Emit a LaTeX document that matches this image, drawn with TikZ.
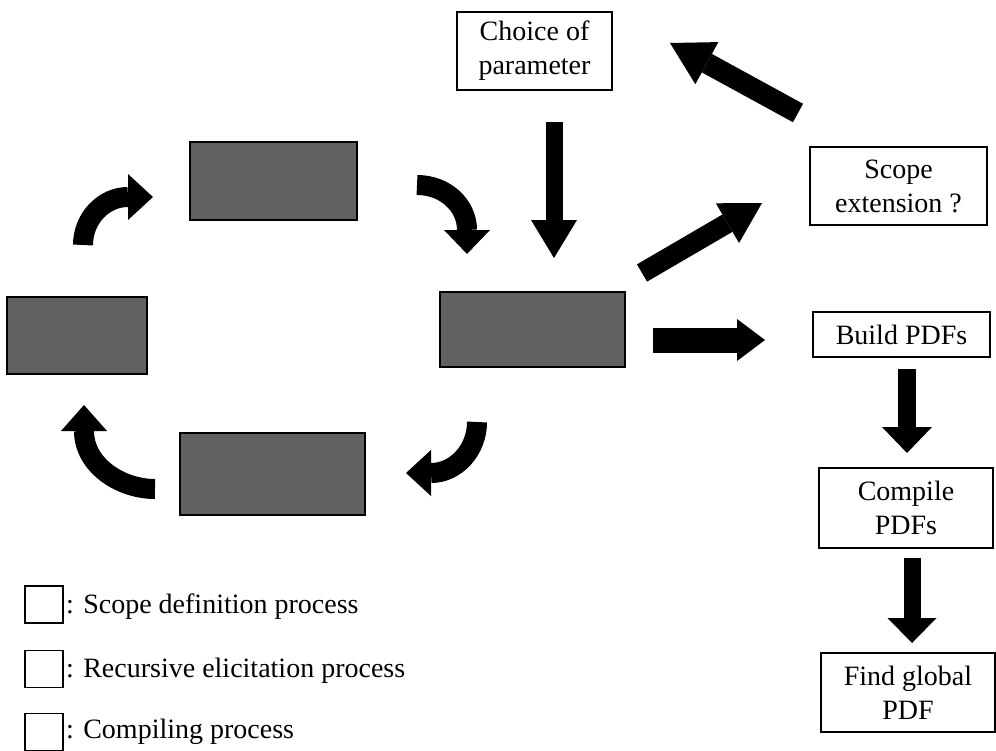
\documentclass[tikz,border=0pt]{standalone}
\usepackage{fontspec}
\setmainfont{Liberation Serif}
\usetikzlibrary{arrows.meta}
\begin{document}
\begin{tikzpicture}[x=1pt,y=-1pt,
 box/.style={draw, line width=1.6pt, align=center, inner sep=0pt, font=\fontsize{28}{34}\selectfont},
 gbox/.style={draw, line width=1.8pt, fill=black!62, inner sep=0pt},
 blk/.style n args={3}{line width=#1, -{Triangle[width=#2,length=#3,line width=0pt]}},
 lsq/.style={draw, line width=1.4pt, minimum width=38pt, minimum height=37pt, inner sep=0pt},
 ltxt/.style={anchor=base west, inner sep=0pt, font=\fontsize{28}{34}\selectfont}]
\useasboundingbox (0,0) rectangle (996,750);

% white boxes
\node[box, minimum width=155pt, minimum height=78pt] (choice) at (534.5,51) {Choice of\\parameter};
\node[box, minimum width=177pt, minimum height=78pt] (scope) at (898.5,186) {Scope\\extension ?};
\node[box, minimum width=177pt, minimum height=45pt] (build) at (901.5,334.5) {Build PDFs};
\node[box, minimum width=174pt, minimum height=80pt] (compile) at (906,508) {Compile\\PDFs};
\node[box, minimum width=174pt, minimum height=79pt] (find) at (908,692.5) {Find global\\PDF};

% grey boxes
\node[gbox, minimum width=167pt, minimum height=78pt] (gtop) at (273.5,181) {};
\node[gbox, minimum width=140pt, minimum height=77pt] (gleft) at (77,335.5) {};
\node[gbox, minimum width=185pt, minimum height=75pt] (gmid) at (532.5,329.5) {};
\node[gbox, minimum width=185pt, minimum height=82pt] (gbot) at (272.5,474) {};

% arrow end points
\coordinate (a1s) at (554,122);  \coordinate (a1e) at (554,258);
\coordinate (a2s) at (642,273);  \coordinate (a2e) at (762,203);
\coordinate (a3s) at (798,113);  \coordinate (a3e) at (670,43);
\coordinate (a4s) at (653,340);  \coordinate (a4e) at (765,340);
\coordinate (a5s) at (907,369);  \coordinate (a5e) at (907,453);
\coordinate (a6s) at (912,558);  \coordinate (a6e) at (912,643);

\draw[blk={17pt}{46pt}{38pt}] (a1s) -- (a1e);
\draw[blk={20pt}{46pt}{40pt}] (a2s) -- (a2e);
\draw[blk={21pt}{48pt}{42pt}] (a3s) -- (a3e);
\draw[blk={25pt}{42pt}{28pt}] (a4s) -- (a4e);
\draw[blk={18pt}{50pt}{26pt}] (a5s) -- (a5e);
\draw[blk={17pt}{49pt}{25pt}] (a6s) -- (a6e);

% curved arrows
\coordinate (c1s) at (83,245);  \coordinate (c1m) at (128,197); \coordinate (c1e) at (153,197);
\coordinate (c2s) at (417,185); \coordinate (c2m) at (467,230); \coordinate (c2e) at (467,254);
\coordinate (c3s) at (477,422); \coordinate (c3m) at (431,473); \coordinate (c3e) at (406,473);
\coordinate (c4s) at (155,489); \coordinate (c4m) at (84,431);  \coordinate (c4e) at (84,405);

\draw[blk={20pt}{46pt}{25pt}] (c1s) .. controls (83,219) and (103,197) .. (c1m) -- (c1e);
\draw[blk={20pt}{46pt}{24pt}] (c2s) .. controls (445,185) and (467,205) .. (c2m) -- (c2e);
\draw[blk={20pt}{46pt}{25pt}] (c3s) .. controls (477,450) and (456,473) .. (c3m) -- (c3e);
\draw[blk={20pt}{46pt}{26pt}] (c4s) .. controls (120,489) and (84,465) .. (c4m) -- (c4e);

% legend
\node[lsq] (l1) at (44,604.5) {};
\node[lsq] (l2) at (44,669) {};
\node[lsq] (l3) at (44,732) {};
\node[ltxt] (t1) at (66,613) {: Scope definition process};
\node[ltxt] (t2) at (66,677) {: Recursive elicitation process};
\node[ltxt] (t3) at (66,738) {: Compiling process};
\end{tikzpicture}
\end{document}
